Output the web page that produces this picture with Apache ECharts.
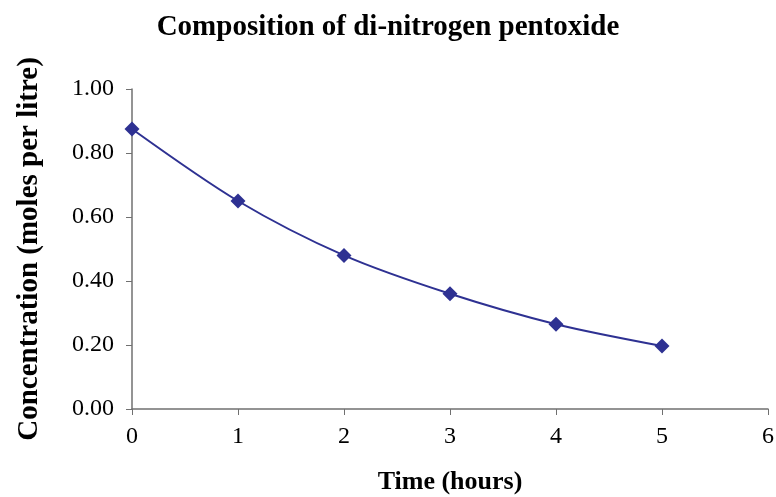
<!DOCTYPE html>
<html>
<head>
<meta charset="utf-8">
<script src="https://cdn.jsdelivr.net/npm/echarts@6/dist/echarts.min.js"></script>
<style>
  html, body { margin: 0; padding: 0; background: #fff; }
  #chart { width: 776px; height: 497px; }
</style>
</head>
<body>
<div id="chart"></div>
<script>
const hours = [0, 1, 2, 3, 4, 5]
const concentration = [0.875, 0.65, 0.48, 0.36, 0.265, 0.197]

const font = 'Liberation Serif'
const axisColor = '#707070'

const chart = echarts.init(document.getElementById('chart'))
chart.setOption({
  animation: false,
  title: {
    text: 'Composition of di-nitrogen pentoxide',
    left: 'center',
    top: 8,
    textStyle: {
      fontFamily: font,
      fontWeight: 'bold',
      fontSize: 29,
      color: '#000'
    }
  },
  grid: {
    left: 132,
    right: 8,
    top: 89,
    bottom: 88,
    outerBoundsMode: 'none'
  },
  xAxis: {
    type: 'value',
    min: 0,
    max: 6,
    interval: 1,
    name: 'Time (hours)',
    nameLocation: 'middle',
    nameGap: 60,
    nameTextStyle: {
      fontFamily: font,
      fontWeight: 'bold',
      fontSize: 26,
      color: '#000'
    },
    axisLine: { lineStyle: { color: axisColor, width: 1.5 } },
    axisTick: { show: true, length: 6, lineStyle: { color: axisColor } },
    axisLabel: { fontFamily: font, fontSize: 24, color: '#000', margin: 16 },
    splitLine: { show: false }
  },
  yAxis: {
    type: 'value',
    min: 0,
    max: 1,
    interval: 0.2,
    name: 'Concentration (moles per litre)',
    nameLocation: 'middle',
    nameGap: 88,
    nameTextStyle: {
      fontFamily: font,
      fontWeight: 'bold',
      fontSize: 29,
      color: '#000'
    },
    axisLine: { show: true, lineStyle: { color: axisColor, width: 1.5 } },
    axisTick: { show: true, length: 6, lineStyle: { color: axisColor } },
    axisLabel: {
      fontFamily: font,
      fontSize: 24,
      color: '#000',
      margin: 18,
      formatter: v => v.toFixed(2)
    },
    splitLine: { show: false }
  },
  series: [
    {
      type: 'line',
      data: hours.map((h, i) => [h, concentration[i]]),
      smooth: 0.3,
      symbol: 'diamond',
      symbolSize: 15,
      lineStyle: { color: '#2E3192', width: 2 },
      itemStyle: { color: '#2E3192' }
    }
  ]
})
</script>
</body>
</html>
